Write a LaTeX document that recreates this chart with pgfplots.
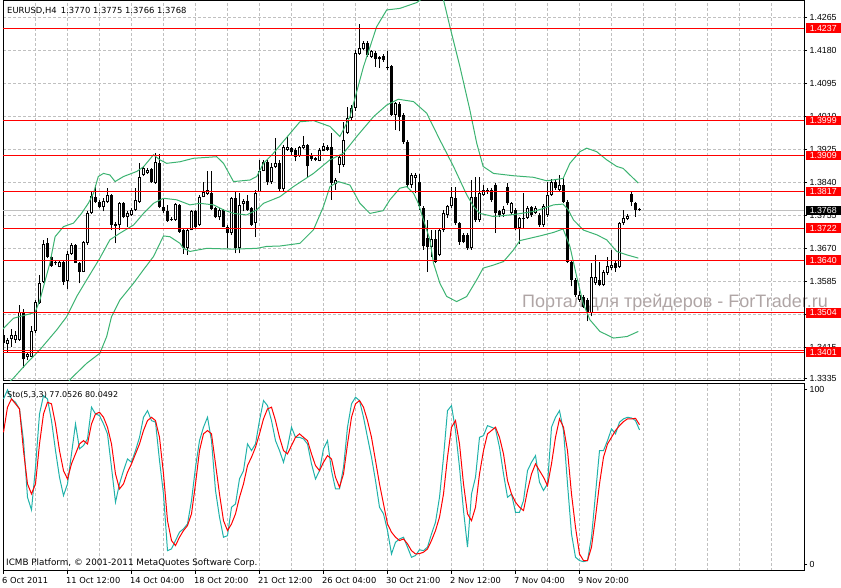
\documentclass[border=0pt]{standalone}
\usepackage{fontspec}
\setmainfont{Liberation Sans}
\newfontfamily\djv{DejaVu Sans}
\usepackage{pgfplots}
\usepackage{pgfplotstable}
\pgfplotsset{compat=1.18}
\definecolor{bb}{RGB}{60,179,113}
\definecolor{stk}{RGB}{32,178,170}
\definecolor{gridc}{RGB}{192,192,192}
\definecolor{wm}{RGB}{175,165,165}
\newcommand{\lab}{\fontsize{8.8}{10}\selectfont}

\pgfplotstableread{
i O H L C
0 1.3447 1.3456 1.3421 1.3426
1 1.3424 1.3439 1.3402 1.3434
2 1.3436 1.3462 1.3417 1.3447
3 1.3434 1.3456 1.3426 1.3447
4 1.3434 1.3524 1.3432 1.3507
5 1.3507 1.3513 1.3361 1.3384
6 1.3390 1.3404 1.3383 1.3398
7 1.3391 1.3469 1.3390 1.3456
8 1.3456 1.3536 1.3453 1.3531
9 1.3529 1.3602 1.3527 1.3580
10 1.3583 1.3692 1.3580 1.3681
11 1.3683 1.3696 1.3645 1.3649
12 1.3649 1.3656 1.3623 1.3625
13 1.3632 1.3640 1.3627 1.3636
14 1.3623 1.3640 1.3621 1.3636
15 1.3636 1.3640 1.3576 1.3584
16 1.3587 1.3662 1.3565 1.3656
17 1.3656 1.3685 1.3653 1.3679
18 1.3679 1.3681 1.3632 1.3633
19 1.3633 1.3636 1.3580 1.3610
20 1.3610 1.3690 1.3608 1.3687
21 1.3683 1.3765 1.3679 1.3760
22 1.3760 1.3816 1.3759 1.3805
23 1.3803 1.3833 1.3788 1.3790
24 1.3790 1.3795 1.3773 1.3777
25 1.3777 1.3799 1.3765 1.3793
26 1.3790 1.3825 1.3788 1.3808
27 1.3808 1.3810 1.3717 1.3730
28 1.3732 1.3739 1.3683 1.3728
29 1.3730 1.3790 1.3717 1.3786
30 1.3786 1.3790 1.3747 1.3752
31 1.3750 1.3766 1.3726 1.3762
32 1.3756 1.3773 1.3754 1.3769
33 1.3769 1.3825 1.3767 1.3795
34 1.3790 1.3889 1.3788 1.3855
35 1.3859 1.3882 1.3856 1.3876
36 1.3863 1.3876 1.3862 1.3872
37 1.3874 1.3876 1.3839 1.3842
38 1.3838 1.3915 1.3836 1.3893
39 1.3889 1.3913 1.3773 1.3777
40 1.3777 1.3799 1.3762 1.3765
41 1.3766 1.3782 1.3739 1.3741
42 1.3743 1.3750 1.3741 1.3746
43 1.3743 1.3788 1.3741 1.3784
44 1.3782 1.3784 1.3710 1.3713
45 1.3717 1.3719 1.3656 1.3670
46 1.3670 1.3722 1.3653 1.3717
47 1.3717 1.3769 1.3716 1.3765
48 1.3765 1.3769 1.3719 1.3726
49 1.3730 1.3808 1.3728 1.3803
50 1.3803 1.3842 1.3801 1.3814
51 1.3810 1.3868 1.3808 1.3820
52 1.3812 1.3868 1.3769 1.3771
53 1.3773 1.3777 1.3747 1.3750
54 1.3750 1.3773 1.3743 1.3769
55 1.3769 1.3772 1.3724 1.3726
56 1.3726 1.3730 1.3670 1.3709
57 1.3709 1.3803 1.3705 1.3799
58 1.3799 1.3816 1.3657 1.3670
59 1.3670 1.3812 1.3657 1.3782
60 1.3784 1.3796 1.3765 1.3793
61 1.3793 1.3808 1.3767 1.3769
62 1.3773 1.3777 1.3728 1.3730
63 1.3735 1.3820 1.3700 1.3812
64 1.3816 1.3898 1.3814 1.3870
65 1.3870 1.3898 1.3868 1.3893
66 1.3893 1.3898 1.3833 1.3840
67 1.3842 1.3889 1.3836 1.3880
68 1.3880 1.3953 1.3876 1.3889
69 1.3889 1.3897 1.3816 1.3822
70 1.3822 1.3936 1.3818 1.3932
71 1.3924 1.3958 1.3921 1.3932
72 1.3928 1.3932 1.3911 1.3917
73 1.3924 1.3928 1.3894 1.3906
74 1.3908 1.3934 1.3906 1.3930
75 1.3928 1.3960 1.3926 1.3936
76 1.3936 1.3940 1.3855 1.3881
77 1.3911 1.3915 1.3896 1.3900
78 1.3902 1.3906 1.3894 1.3898
79 1.3896 1.3928 1.3894 1.3924
80 1.3922 1.3941 1.3920 1.3934
81 1.3932 1.3936 1.3920 1.3924
82 1.3932 1.3966 1.3795 1.3838
83 1.3836 1.3850 1.3821 1.3846
84 1.3885 1.3911 1.3863 1.3906
85 1.3885 1.3996 1.3880 1.3949
86 1.3968 1.4035 1.3964 1.4005
87 1.4005 1.4039 1.4000 1.4031
88 1.4031 1.4181 1.4025 1.4172
89 1.4171 1.4248 1.4168 1.4185
90 1.4183 1.4205 1.4180 1.4200
91 1.4198 1.4203 1.4164 1.4168
92 1.4164 1.4181 1.4160 1.4177
93 1.4172 1.4177 1.4138 1.4157
94 1.4157 1.4166 1.4134 1.4162
95 1.4166 1.4170 1.4150 1.4155
96 1.4138 1.4177 1.4130 1.4134
97 1.4140 1.4142 1.4010 1.4014
98 1.4014 1.4048 1.3975 1.4044
99 1.4042 1.4046 1.3971 1.4009
100 1.4014 1.4018 1.3940 1.3945
101 1.3945 1.3949 1.3825 1.3833
102 1.3833 1.3863 1.3825 1.3859
103 1.3850 1.3865 1.3812 1.3859
104 1.3842 1.3862 1.3770 1.3778
105 1.3773 1.3778 1.3666 1.3675
106 1.3696 1.3743 1.3610 1.3673
107 1.3673 1.3717 1.3649 1.3694
108 1.3694 1.3717 1.3632 1.3636
109 1.3653 1.3722 1.3650 1.3717
110 1.3717 1.3769 1.3712 1.3760
111 1.3756 1.3782 1.3748 1.3778
112 1.3778 1.3829 1.3775 1.3803
113 1.3799 1.3829 1.3730 1.3735
114 1.3735 1.3739 1.3679 1.3687
115 1.3705 1.3709 1.3683 1.3687
116 1.3705 1.3709 1.3666 1.3670
117 1.3670 1.3846 1.3666 1.3803
118 1.3803 1.3855 1.3739 1.3743
119 1.3743 1.3855 1.3739 1.3812
120 1.3808 1.3833 1.3805 1.3820
121 1.3820 1.3825 1.3810 1.3814
122 1.3820 1.3825 1.3790 1.3795
123 1.3833 1.3838 1.3709 1.3760
124 1.3765 1.3770 1.3750 1.3756
125 1.3759 1.3778 1.3752 1.3771
126 1.3829 1.3838 1.3782 1.3786
127 1.3760 1.3790 1.3755 1.3786
128 1.3769 1.3775 1.3717 1.3722
129 1.3722 1.3752 1.3681 1.3748
130 1.3748 1.3812 1.3722 1.3745
131 1.3748 1.3778 1.3745 1.3773
132 1.3776 1.3780 1.3752 1.3756
133 1.3762 1.3778 1.3758 1.3773
134 1.3756 1.3762 1.3726 1.3730
135 1.3730 1.3783 1.3726 1.3779
136 1.3756 1.3842 1.3752 1.3808
137 1.3808 1.3848 1.3805 1.3842
138 1.3842 1.3846 1.3821 1.3825
139 1.3821 1.3859 1.3818 1.3833
140 1.3833 1.3851 1.3786 1.3790
141 1.3790 1.3795 1.3632 1.3636
142 1.3636 1.3640 1.3572 1.3589
143 1.3589 1.3593 1.3546 1.3550
144 1.3537 1.3559 1.3533 1.3550
145 1.3546 1.3550 1.3516 1.3520
146 1.3537 1.3541 1.3482 1.3503
147 1.3503 1.3632 1.3495 1.3597
148 1.3580 1.3653 1.3576 1.3597
149 1.3589 1.3636 1.3572 1.3576
150 1.3576 1.3615 1.3572 1.3610
151 1.3606 1.3649 1.3602 1.3625
152 1.3619 1.3666 1.3615 1.3627
153 1.3633 1.3638 1.3610 1.3620
154 1.3623 1.3739 1.3619 1.3735
155 1.3735 1.3769 1.3730 1.3747
156 1.3745 1.3758 1.3742 1.3754
157 1.3810 1.3814 1.3779 1.3790
158 1.3786 1.3790 1.3752 1.3769
159 1.3770 1.3775 1.3766 1.3768
}\candles

\pgfplotstableread{
i K D
0 94.8 75.7
1 100 90.1
2 94.8 94.8
3 92.9 92.0
4 89.1 89.1
5 70.9 65.2
6 38.4 46.1
7 31.2 40.3
8 55.6 46.1
9 86.2 69.0
10 96.7 86.2
11 94.8 92.9
12 82.4 92.0
13 65.2 80.5
14 49.9 65.2
15 39.4 53.7
16 46.1 48.9
17 63.3 57.6
18 80.5 63.3
19 66.2 69.0
20 68.1 70.9
21 71.9 69.0
22 90.1 80.5
23 86.2 86.2
24 85.3 87.2
25 80.5 84.3
26 74.8 78.6
27 55.6 69.0
28 35.6 51.8
29 46.1 43.2
30 53.7 46.1
31 60.4 52.8
32 58.5 57.6
33 65.2 63.3
34 72.8 69.0
35 84.3 76.7
36 88.1 82.4
37 82.4 84.3
38 81.5 82.4
39 59.5 72.8
40 40.3 51.8
41 7.8 25.0
42 8.8 13.6
43 13.6 10.7
44 18.4 15.5
45 20.3 19.3
46 23.1 22.2
47 36.5 28.9
48 55.6 46.1
49 70.9 65.2
50 78.6 74.8
51 84.3 76.7
52 70.9 74.8
53 42.3 57.6
54 27.0 40.3
55 15.5 25.0
56 16.4 19.3
57 32.7 23.1
58 34.6 28.9
59 49.0 38.4
60 53.7 46.1
61 69.0 56.6
62 65.2 61.4
63 69.0 67.1
64 82.4 74.8
65 93.9 83.4
66 91.0 89.1
67 82.4 90.1
68 70.9 82.4
69 65.2 72.8
70 58.5 65.2
71 67.1 63.3
72 78.6 68.1
73 72.8 72.8
74 72.8 74.8
75 71.9 72.8
76 69.0 70.9
77 57.6 63.3
78 48.9 56.6
79 53.7 53.7
80 66.2 58.5
81 70.9 62.3
82 53.7 60.4
83 43.2 49.9
84 43.2 44.2
85 55.6 51.8
86 78.6 69.0
87 92.0 84.3
88 95.8 92.0
89 93.9 93.9
90 84.3 90.1
91 72.8 82.4
92 61.4 72.8
93 48.0 59.5
94 32.7 46.1
95 28.9 34.6
96 19.3 23.1
97 5.9 18.4
98 12.6 15.5
99 14.5 13.6
100 15.5 14.5
101 9.8 11.7
102 4.0 7.8
103 5.0 5.9
104 8.3 6.1
105 7.8 6.9
106 9.8 8.8
107 17.4 13.6
108 24.1 19.3
109 38.4 27.0
110 61.4 40.3
111 88.1 61.4
112 91.0 78.6
113 76.7 82.4
114 55.6 69.0
115 30.8 46.1
116 9.8 28.9
117 40.3 25.0
118 49.9 32.7
119 72.8 51.8
120 73.8 65.2
121 79.5 74.8
122 78.6 76.7
123 77.6 78.6
124 67.1 72.8
125 51.8 63.3
126 38.4 48.0
127 40.3 40.3
128 29.8 35.6
129 29.8 32.7
130 36.5 30.8
131 53.7 42.3
132 58.5 51.8
133 62.3 57.6
134 47.0 53.7
135 42.3 49.9
136 46.1 45.1
137 78.6 57.6
138 84.3 72.8
139 88.1 83.4
140 76.7 78.6
141 46.1 65.2
142 17.4 40.3
143 4.0 21.2
144 2.1 5.9
145 1.5 2.1
146 2.1 2.1
147 15.5 9.8
148 40.3 27.0
149 65.2 46.1
150 65.2 61.4
151 70.9 69.0
152 77.6 72.8
153 74.8 76.7
154 81.5 79.5
155 83.4 81.8
156 84.3 83.4
157 83.9 83.4
158 82.4 83.7
159 77.05 80.05
}\stoch

\begin{document}
\begin{tikzpicture}[x=1pt,y=1pt]
\useasboundingbox (0,0) rectangle (841,588);
% watermark (behind everything)
\node[anchor=base west, inner sep=0pt, text=wm, font=\fontsize{18}{20}\selectfont] at (522,280.5) {Портал для трейдеров - ForTrader.ru};

\begin{axis}[
  at={(3pt,207.3pt)}, anchor=south west,
  width=801pt, height=380pt, scale only axis,
  xmin=-0.125, xmax=200.125, ymin=1.33292, ymax=1.43078,
  axis line style={line width=1pt},
  xtick={8,16,...,192}, xticklabels={}, xtick style={draw=none},
  xmajorgrids, ymajorgrids,
  grid style={gridc, dash pattern=on 3pt off 2pt, line width=1pt},
  ytick={1.3335,1.3415,1.3500,1.3585,1.3670,1.3755,1.3840,1.3925,1.4010,1.4095,1.4180,1.4265},
  yticklabels={1.3335,1.3415,1.3500,1.3585,1.3670,1.3755,1.3840,1.3925,1.4010,1.4095,1.4180,1.4265},
  ytick pos=right, yticklabel pos=right,
  ytick style={black, line width=1pt},
  tick align=outside, major tick length=3pt,
  yticklabel style={font=\lab, inner sep=1pt, xshift=1.5pt},
]
% bid line
\addplot[gridc, line width=1pt, forget plot] coordinates {(-0.125,1.3768) (200.125,1.3768)};
% wicks
\addplot[draw=none, mark=none, forget plot,
  error bars/.cd, y dir=plus, y explicit, error mark=none,
  error bar style={line width=1pt, draw=black, solid}]
  table[x=i, y=L, y error plus expr={\thisrow{H}-\thisrow{L}}] {\candles};
% bodies
\addplot[draw=none, mark=none, forget plot,
  error bars/.cd, y dir=plus, y explicit, error mark=none,
  error bar style={line width=3pt, draw=black, solid}]
  table[x=i, y expr={min(\thisrow{O},\thisrow{C})}, y error plus expr={max(abs(\thisrow{C}-\thisrow{O}),0.00026)}] {\candles};
% white interiors of bull candles
\addplot[draw=none, mark=none, forget plot,
  error bars/.cd, y dir=plus, y explicit, error mark=none,
  error bar style={line width=1pt, draw=white, solid}]
  table[x=i, y expr={(\thisrow{C}-\thisrow{O}>0.0006) ? (\thisrow{O}+0.00026) : nan}, y error plus expr={\thisrow{C}-\thisrow{O}-0.00052}] {\candles};
% Bollinger bands
\addplot[bb, line width=1pt] coordinates {(-0.2,1.3462) (2.5,1.3490) (7.9,1.3505) (9.1,1.3537) (11.6,1.3632) (12.9,1.3700) (15,1.3726) (17.5,1.3735) (19.5,1.3760) (21.2,1.3786) (22.5,1.3812) (23.7,1.3855) (25,1.3863) (26.6,1.3859) (27.9,1.3842) (30,1.3855) (33.3,1.3868) (35,1.3880) (37.5,1.3911) (39.1,1.3898) (40.8,1.3889) (44.1,1.3893) (47.5,1.3902) (53.3,1.3906) (55,1.3889) (57.5,1.3842) (61.6,1.3846) (63.3,1.3855) (65,1.3889) (67.5,1.3915) (69.1,1.3935) (74.1,1.3996) (77.5,1.3999) (81.6,1.3984) (84.1,1.3958) (86.6,1.4009) (90,1.4138) (93.3,1.4241) (95.8,1.4284) (99.1,1.4288) (103.3,1.4303) (107,1.4330) (110,1.4310) (111.6,1.4241) (114.1,1.4138) (116.6,1.4026) (118.3,1.3941) (119.9,1.3881) (122.5,1.3863) (127.5,1.3857) (132.5,1.3853) (135.8,1.3844) (139.9,1.3850) (141.6,1.3889) (144.1,1.3919) (145.8,1.3928) (148.3,1.3919) (150.8,1.3898) (153.3,1.3881) (154.9,1.3876) (156.6,1.3859) (158.7,1.3838)};
\addplot[bb, line width=1pt] coordinates {(1,1.3322) (2.5,1.3336) (5.8,1.3374) (9.1,1.3409) (13.3,1.3460) (15.8,1.3494) (18.3,1.3546) (20.8,1.3589) (24.1,1.3645) (26.6,1.3692) (29.1,1.3709) (32.5,1.3730) (35,1.3760) (37.5,1.3786) (40,1.3799) (43.3,1.3795) (46.6,1.3782) (49.1,1.3786) (52.5,1.3782) (55,1.3769) (57.5,1.3760) (60.8,1.3756) (63.3,1.3769) (65,1.3786) (69.1,1.3803) (72.5,1.3829) (77.5,1.3863) (81.6,1.3898) (85,1.3915) (88.3,1.3958) (92.5,1.4009) (95.8,1.4039) (98.7,1.4054) (102.5,1.4048) (105.8,1.4018) (109.1,1.3949) (112.5,1.3881) (115.8,1.3808) (117.5,1.3778) (119.1,1.3760) (122.5,1.3752) (127.5,1.3757) (132.5,1.3765) (135,1.3773) (137.5,1.3782) (139.9,1.3784) (141.2,1.3769) (142.5,1.3743) (145,1.3717) (148.3,1.3705) (150.8,1.3692) (153.3,1.3662) (155.9,1.3653) (158.7,1.3645)};
\addplot[bb, line width=1pt] coordinates {(15,1.3310) (17,1.3336) (20.8,1.3374) (24.1,1.3400) (25.8,1.3443) (27,1.3494) (29.1,1.3537) (32.5,1.3580) (35,1.3615) (37.5,1.3649) (40,1.3702) (41.6,1.3700) (44.1,1.3683) (45,1.3670) (46.6,1.3662) (50.8,1.3670) (57.5,1.3668) (63.3,1.3670) (65.8,1.3675) (69.1,1.3676) (74.1,1.3683) (77.5,1.3718) (80,1.3778) (81.6,1.3829) (83.7,1.3842) (86.6,1.3833) (89.1,1.3786) (91.6,1.3760) (94.9,1.3767) (96.6,1.3795) (99.1,1.3825) (100.8,1.3829) (102.5,1.3812) (103.7,1.3786) (105,1.3743) (106.6,1.3692) (107.5,1.3632) (109.1,1.3580) (110.8,1.3546) (113.3,1.3533) (115.8,1.3546) (118.3,1.3589) (119.9,1.3619) (122.5,1.3627) (125,1.3636) (127.5,1.3666) (129.1,1.3690) (134.1,1.3702) (137.5,1.3711) (139.9,1.3720) (141.6,1.3675) (143.3,1.3597) (144.9,1.3529) (146.6,1.3486) (149.1,1.3456) (152.5,1.3439) (155.9,1.3443) (158.7,1.3456)};
% horizontal levels
\addplot[red, line width=1pt] coordinates {(-0.125,1.4237) (200.125,1.4237)};
\addplot[red, line width=1pt] coordinates {(-0.125,1.3999) (200.125,1.3999)};
\addplot[red, line width=1pt] coordinates {(-0.125,1.3909) (200.125,1.3909)};
\addplot[red, line width=1pt] coordinates {(-0.125,1.3817) (200.125,1.3817)};
\addplot[red, line width=1pt] coordinates {(-0.125,1.3722) (200.125,1.3722)};
\addplot[red, line width=1pt] coordinates {(-0.125,1.3640) (200.125,1.3640)};
\addplot[red, line width=1pt] coordinates {(-0.125,1.3504) (200.125,1.3504)};
\addplot[red, line width=1pt] coordinates {(-0.125,1.3407) (200.125,1.3407)};
\addplot[red, line width=1pt] coordinates {(-0.125,1.3401) (200.125,1.3401)};
\coordinate (r1) at (200.125,1.4237);
\coordinate (r2) at (200.125,1.3999);
\coordinate (r3) at (200.125,1.3909);
\coordinate (r4) at (200.125,1.3817);
\coordinate (r5) at (200.125,1.3722);
\coordinate (r6) at (200.125,1.3640);
\coordinate (r7) at (200.125,1.3504);
\coordinate (r8) at (200.125,1.3403);
\coordinate (rb) at (200.125,1.3768);
\end{axis}

\foreach \c/\t in {r1/1.4237,r2/1.3999,r3/1.3909,r4/1.3817,r5/1.3722,r6/1.3640,r7/1.3504,r8/1.3401}
  \node[fill=red, text=white, font=\lab, anchor=west, minimum width=35pt, minimum height=9.5pt, inner sep=0pt] at ([xshift=1.5pt]\c) {\t};
\node[fill=black, text=white, font=\lab, anchor=west, minimum width=35pt, minimum height=9.5pt, inner sep=0pt] at ([xshift=1.5pt]rb) {1.3768};

\node[anchor=base west, inner sep=0pt, font=\djv\fontsize{8.4}{10}\selectfont] at (7,574.5) {EURUSD,H4\hspace{0.5em}1.3770 1.3775 1.3766 1.3768};

\begin{axis}[
  at={(3pt,17.3pt)}, anchor=south west,
  width=801pt, height=187.4pt, scale only axis,
  xmin=-0.125, xmax=200.125, ymin=-3.7, ymax=103.8,
  axis line style={line width=1pt},
  xtick={0,16,...,144},
  xticklabels={6 Oct 2011,11 Oct 12:00,14 Oct 04:00,18 Oct 20:00,21 Oct 12:00,26 Oct 04:00,30 Oct 21:00,2 Nov 12:00,7 Nov 04:00,9 Nov 20:00},
  minor xtick={8,24,40,56,72,88,104,120,136,152,160,168,176,184,192},
  xmajorgrids, xminorgrids, minor tick length=0pt,
  grid style={gridc, dash pattern=on 3pt off 2pt, line width=1pt},
  xtick pos=left,
  xticklabel style={font=\djv\fontsize{8.3}{10}\selectfont, anchor=north west, xshift=-2.5pt, inner sep=1pt, yshift=-2pt},
  ytick={0,100}, yticklabels={0,100},
  ytick pos=right, yticklabel pos=right,
  tick style={black, line width=1pt},
  tick align=outside, major tick length=3pt,
  yticklabel style={font=\lab, inner sep=1pt, xshift=1.5pt},
]
\addplot[stk, line width=1pt] table[x=i, y=K] {\stoch};
\addplot[red, line width=1pt] table[x=i, y=D] {\stoch};
\end{axis}
\node[anchor=base west, inner sep=0pt, font=\djv\fontsize{8}{10}\selectfont] at (7,190.5) {Sto(5,3,3) 77.0526 80.0492};
\node[anchor=base west, inner sep=0pt, font=\djv\fontsize{8.8}{10}\selectfont] at (6,22.3) {ICMB Platform, © 2001-2011 MetaQuotes Software Corp.};
\end{tikzpicture}
\end{document}
